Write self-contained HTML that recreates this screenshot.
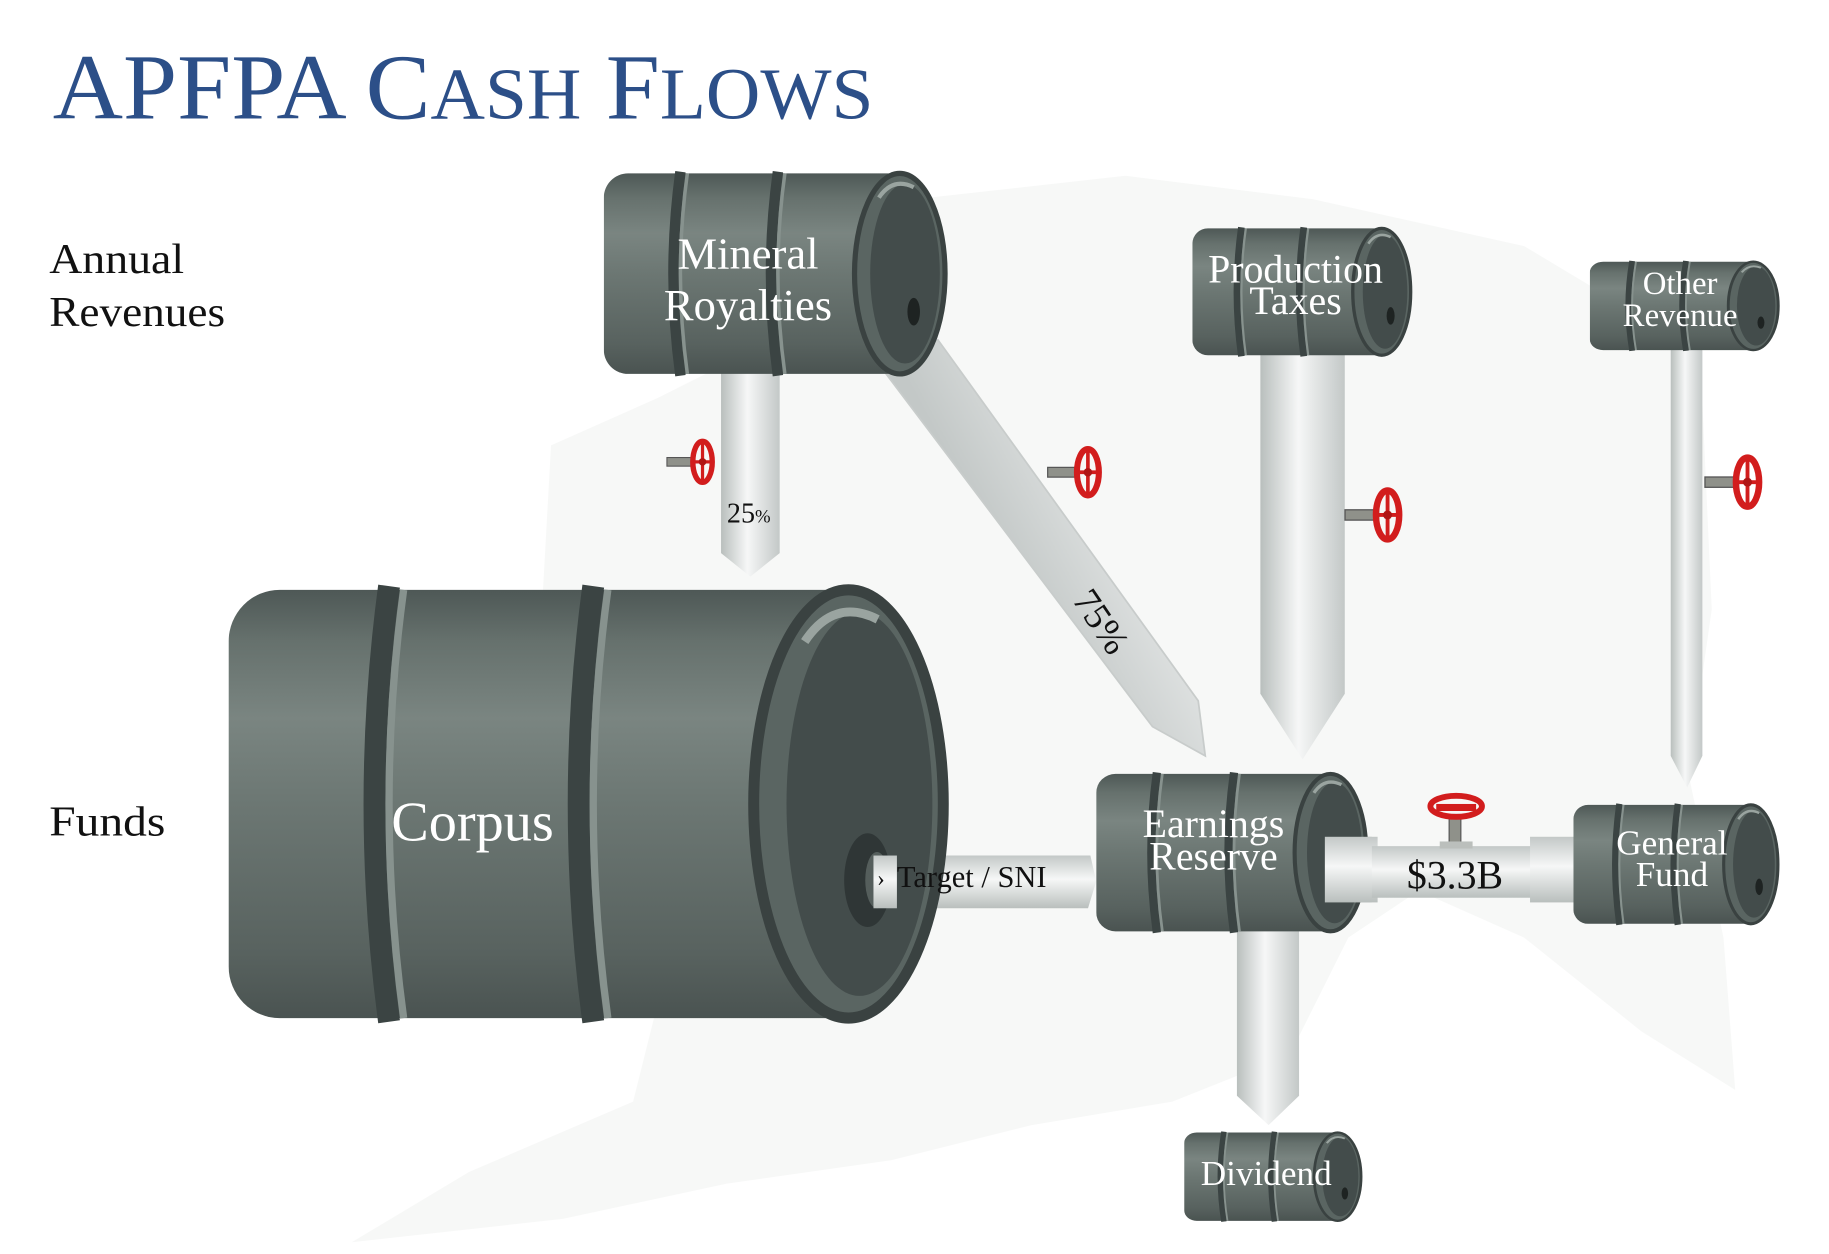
<!DOCTYPE html>
<html><head><meta charset="utf-8"><style>html,body{margin:0;padding:0;background:#fff}svg{display:block}</style></head>
<body>
<svg width="1829" height="1254" viewBox="0 0 1560 1070" preserveAspectRatio="none" xmlns="http://www.w3.org/2000/svg" font-family="Liberation Serif, serif">
<defs>
<linearGradient id="bg" x1="0" y1="0" x2="0" y2="1">
<stop offset="0" stop-color="#4e5856"/><stop offset="0.12" stop-color="#66716d"/><stop offset="0.3" stop-color="#7a8581"/><stop offset="0.5" stop-color="#6c7773"/><stop offset="0.85" stop-color="#58625f"/><stop offset="1" stop-color="#4a5351"/>
</linearGradient>
<linearGradient id="pv" x1="0" y1="0" x2="1" y2="0">
<stop offset="0" stop-color="#b9bfbd"/><stop offset="0.45" stop-color="#f6f7f7"/><stop offset="1" stop-color="#c3c8c7"/>
</linearGradient>
<linearGradient id="ph" x1="0" y1="0" x2="0" y2="1">
<stop offset="0" stop-color="#c3c8c7"/><stop offset="0.45" stop-color="#f6f7f7"/><stop offset="1" stop-color="#b9bfbd"/>
</linearGradient>
<linearGradient id="pd" x1="0" y1="0" x2="1" y2="-0.7">
<stop offset="0" stop-color="#c3c8c7"/><stop offset="0.5" stop-color="#f6f7f7"/><stop offset="1" stop-color="#c3c8c7"/>
</linearGradient>
<symbol id="barrel" viewBox="0 0 100 60" preserveAspectRatio="none">
<rect x="0" y="1" width="90" height="58" rx="7" fill="url(#bg)"/>
<path d="M22,0.5 Q18,30 22,59.5" stroke="#3b4443" stroke-width="3" fill="none"/>
<path d="M24,1 Q20,30 24,59" stroke="#87928e" stroke-width="1" fill="none"/>
<path d="M50,0.5 Q46,30 50,59.5" stroke="#3b4443" stroke-width="3" fill="none"/>
<path d="M52,1 Q48,30 52,59" stroke="#87928e" stroke-width="1" fill="none"/>
<ellipse cx="85" cy="30" rx="13" ry="29" fill="#5a6562" stroke="#3a4241" stroke-width="1.5"/>
<ellipse cx="86.5" cy="30" rx="10" ry="26" fill="#434c4b"/>
<path d="M79,8 Q83,2 89,5" stroke="#9aa4a0" stroke-width="1.2" fill="none"/>
<ellipse cx="89" cy="41" rx="1.8" ry="4" fill="#1e2322"/>
</symbol>
<symbol id="valve" viewBox="0 0 50 50">
<rect x="2" y="20" width="26" height="8" fill="#8f918a" stroke="#555" stroke-width="1"/>
<ellipse cx="35" cy="24" rx="9" ry="19" fill="none" stroke="#d21d1d" stroke-width="5"/>
<line x1="35" y1="6" x2="35" y2="42" stroke="#d21d1d" stroke-width="3"/>
<line x1="27" y1="24" x2="43" y2="24" stroke="#d21d1d" stroke-width="3"/>
<circle cx="35" cy="24" r="3.5" fill="#b01515"/>
</symbol>
</defs>
<rect width="1560" height="1070" fill="#fff"/>
<path d="M470,380 L560,340 L640,300 L780,170 L960,150 L1120,170 L1300,210 L1450,300 L1460,520 L1440,660 L1470,800 L1480,930 L1400,880 L1300,800 L1210,760 L1150,800 L1100,900 L1000,940 L880,960 L760,990 L620,1010 L480,1040 L300,1060 L400,1000 L540,940 L560,860 L520,800 L470,700 L460,560 Z" fill="#f1f3f2" opacity="0.6"/>
<text x="45" y="101" fill="#2c4f88" font-size="80" textLength="700" lengthAdjust="spacingAndGlyphs">APFPA C<tspan font-size="62">ASH</tspan> F<tspan font-size="62">LOWS</tspan></text>
<text x="42" y="233" font-size="36" fill="#111" textLength="115" lengthAdjust="spacingAndGlyphs">Annual</text>
<text x="42" y="278" font-size="36" fill="#111" textLength="150" lengthAdjust="spacingAndGlyphs">Revenues</text>
<text x="42" y="713" font-size="36" fill="#111" textLength="99" lengthAdjust="spacingAndGlyphs">Funds</text>
<path d="M615,318 H665 V472 L640,492 L615,472 Z" fill="url(#pv)"/>
<path d="M755,318 L800,290 L1022,598 L1028,645 L983,620 Z" fill="url(#pd)" stroke="#c8cccb" stroke-width="1.5"/>
<path d="M1075,300 H1147 V592 L1111,648 L1075,592 Z" fill="url(#pv)"/>
<path d="M1425,296 H1452 V645 L1439,672 L1425,645 Z" fill="url(#pv)"/>
<path d="M1055,790 H1108 V935 L1082,960 L1055,935 Z" fill="url(#pv)"/>
<path d="M745,730 H930 L935,752 L928,775 H745 Z" fill="url(#ph)"/>
<rect x="1130" y="714" width="45" height="56" fill="url(#ph)"/>
<rect x="1170" y="722" width="140" height="44" fill="url(#ph)"/>
<rect x="1305" y="714" width="42" height="56" fill="url(#ph)"/>
<use href="#barrel" x="515" y="145" width="297" height="177"/>
<use href="#barrel" x="1017" y="193" width="190" height="112"/>
<use href="#barrel" x="1356" y="222" width="164" height="78"/>
<use href="#barrel" x="195" y="497" width="622" height="378"/>
<use href="#barrel" x="935" y="658" width="235" height="139"/>
<use href="#barrel" x="1342" y="685" width="178" height="105"/>
<use href="#barrel" x="1010" y="965" width="154" height="78"/>
<rect x="1130" y="714" width="40" height="56" fill="url(#ph)"/>
<ellipse cx="740" cy="751" rx="20" ry="40" fill="#2f3636"/>
<ellipse cx="748" cy="751" rx="10" ry="24" fill="#555e5c"/>
<rect x="745" y="730" width="20" height="45" fill="url(#ph)"/>
<use href="#valve" x="565" y="372" width="50" height="46"/>
<use href="#valve" x="890" y="378" width="55" height="52"/>
<use href="#valve" x="1145" y="413" width="55" height="55"/>
<use href="#valve" x="1452" y="385" width="55" height="55"/>
<g>
<rect x="1236" y="695" width="10" height="28" fill="#8f918a" stroke="#555"/>
<ellipse cx="1242" cy="688" rx="22" ry="9" fill="none" stroke="#d21d1d" stroke-width="5"/>
<rect x="1225" y="686" width="34" height="6" fill="#d21d1d"/>
<rect x="1228" y="718" width="28" height="6" fill="#bbbfbc"/>
</g>
<g fill="#fff" text-anchor="middle">
<text x="638" y="229" font-size="38">Mineral</text>
<text x="638" y="273" font-size="38">Royalties</text>
<text x="1105" y="241" font-size="34">Production</text>
<text x="1105" y="268" font-size="34">Taxes</text>
<text x="1433" y="251" font-size="28">Other</text>
<text x="1433" y="278" font-size="28">Revenue</text>
<text x="403" y="717" font-size="48">Corpus</text>
<text x="1035" y="714" font-size="34">Earnings</text>
<text x="1035" y="742" font-size="34">Reserve</text>
<text x="1426" y="729" font-size="30">General</text>
<text x="1426" y="756" font-size="30">Fund</text>
<text x="1080" y="1011" font-size="30">Dividend</text>
</g>
<text x="620" y="446" font-size="24" fill="#111">25<tspan font-size="16">%</tspan></text>
<text transform="translate(914,512) rotate(56)" font-size="32" fill="#111">75%</text>
<text x="748" y="756" font-size="20" fill="#111">›</text>
<text x="765" y="757" font-size="26" fill="#111">Target / SNI</text>
<text x="1241" y="758" font-size="34" fill="#111" text-anchor="middle">$3.3B</text>
</svg>
</body></html>
